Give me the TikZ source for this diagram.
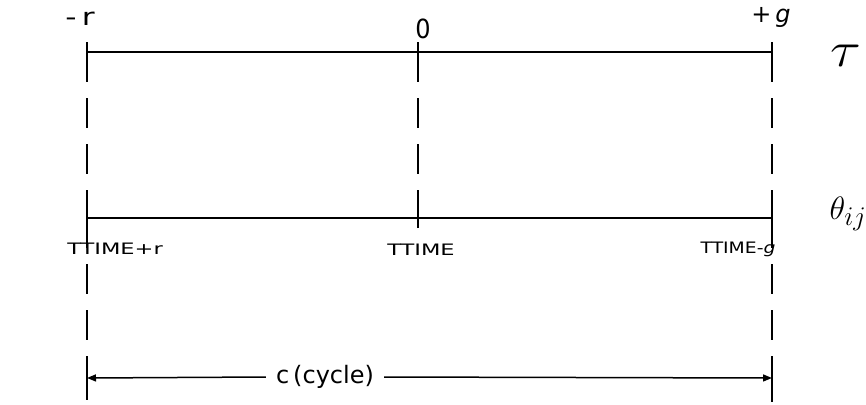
\documentclass[tikz,border=0pt]{standalone}
\usepackage{fontspec}
\setmainfont{DejaVu Sans}
\usetikzlibrary{arrows.meta}
\begin{document}
\begin{tikzpicture}[x=1pt,y=-1pt,
  axis/.style={line width=2.2pt},
  tickmark/.style={line width=2.4pt},
  guide/.style={line width=1.4pt, dash pattern=on 30pt off 16pt},
  lab/.style={font=\fontsize{24}{24}\selectfont, inner sep=0pt},
  tlab/.style={font=\fontsize{15}{15}\selectfont, inner sep=0pt},
  sym/.style={font=\fontsize{30}{30}\selectfont, inner sep=0pt},
  dim/.style={line width=1.5pt, -{Triangle[length=9pt,width=7pt]}}]
\useasboundingbox (0,0) rectangle (866,404);
% key points
\coordinate (L1) at (87,52);
\coordinate (M1) at (418,52);
\coordinate (R1) at (772,52);
\coordinate (L2) at (87,218);
\coordinate (M2) at (418,218);
\coordinate (R2) at (772,218);
\coordinate (L3) at (87,378);
\coordinate (R3) at (772,378);
\coordinate (Lend) at (87,400);
\coordinate (Rend) at (772,402);
% horizontal axes
\draw[axis] (L1) -- (R1);
\draw[axis] (L2) -- (R2);
% tick marks
\foreach \p in {L1,M1,R1,L2,M2,R2,L3,R3}
  \draw[tickmark] ([yshift=-10pt]\p) -- ([yshift=10pt]\p);
% dashed guides
\draw[guide, dash phase=-10pt] ([yshift=10pt]L1) -- ([yshift=-10pt]L2);
\draw[guide, dash phase=-10pt] ([yshift=10pt]L2) -- ([yshift=-10pt]L3);
\draw[guide, dash phase=-10pt] ([yshift=10pt]M1) -- ([yshift=-10pt]M2);
\draw[guide, dash phase=-10pt] ([yshift=10pt]R1) -- ([yshift=-10pt]R2);
\draw[guide, dash phase=-10pt] ([yshift=10pt]R2) -- ([yshift=-10pt]R3);
\draw[line width=1.4pt] ([yshift=-10pt]L3) -- (Lend);
\draw[line width=1.4pt] ([yshift=-10pt]R3) -- (Rend);
% top labels
\node[lab] (mr) at (80,19) {\scalebox{1.3}[1]{-\,r}};
\node[lab] (zero) at (423,29) {\scalebox{1.0}[1.1]{0}};
\node[lab] (pg) at (771,17) {+\,\textit{g}};
\node[sym] (tau) at (846,56) {\scalebox{2.3}[2.0]{$\tau$}};
\node[sym] (theta) at (848,214) {\scalebox{1.3}{$\theta_{ij}$}};
% bottom labels
\node[tlab] (t1) at (115,249) {\scalebox{1.5}[1.05]{TTIME+r}};
\node[tlab] (t2) at (421,250) {\scalebox{1.5}[1.05]{TTIME}};
\node[tlab] (t3) at (738,249) {\scalebox{1.25}[1.05]{TTIME-\textit{g}}};
% cycle dimension
\node[lab, fill=white, inner xsep=10pt] (cyc) at (325,377) {c\,(cycle)};
\draw[dim] (cyc.west) -- (L3);
\draw[dim] (cyc.east) -- (R3);
\end{tikzpicture}
\end{document}
